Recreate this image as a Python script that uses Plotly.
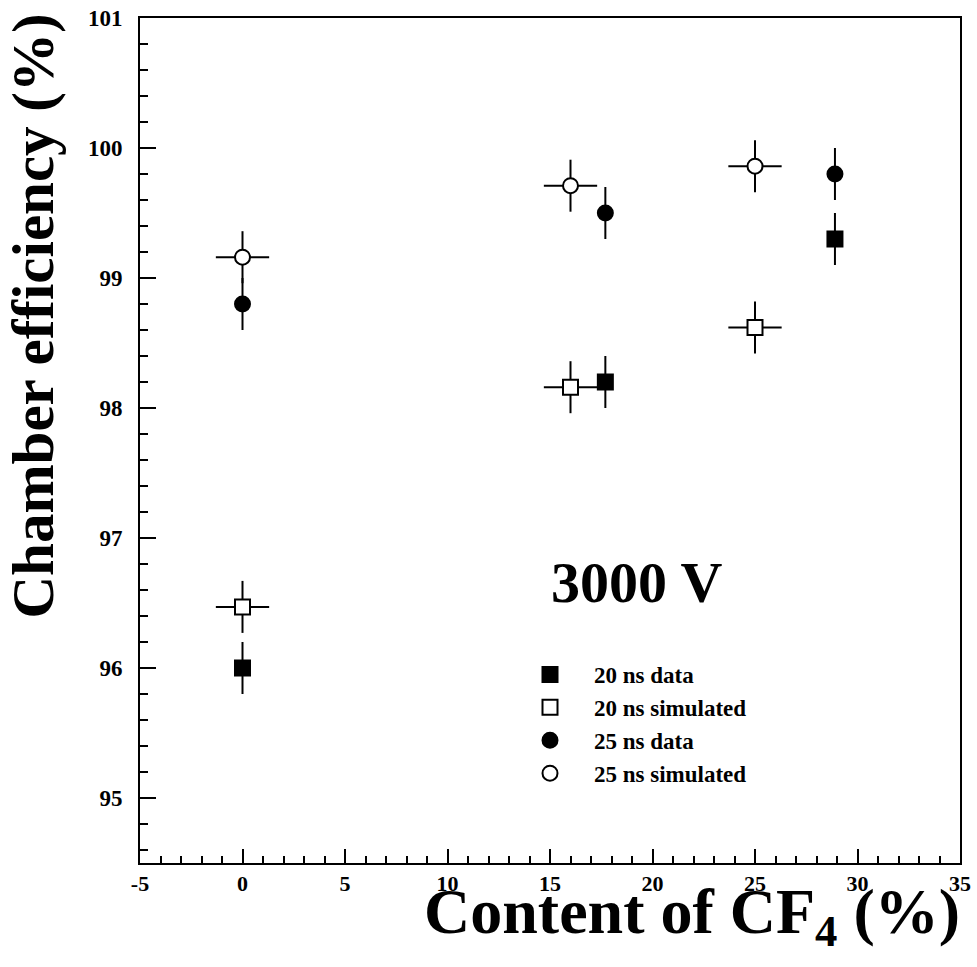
import plotly.graph_objects as go

# Data
x_data = [0.0, 17.7, 28.9]
x_sim = [0.0, 16.0, 25.0]
eff_20_data = [96.0, 98.2, 99.3]
eff_20_sim = [96.47, 98.16, 98.62]
eff_25_data = [98.8, 99.5, 99.8]
eff_25_sim = [99.16, 99.71, 99.86]
err_y = [0.2, 0.2, 0.2]
err_x_sim = [1.3, 1.3, 1.3]

names = ["20 ns data", "20 ns simulated", "25 ns data", "25 ns simulated"]

x_tickvals = [-5, 0, 5, 10, 15, 20, 25, 30, 35]
x_ticktext = ["-5", "0", "5", "10", "15", "20", "25", "30", "35"]
y_tickvals = [95, 96, 97, 98, 99, 100, 101]
y_ticktext = ["95", "96", "97", "98", "99", "100", "101"]

FONT = "Liberation Serif"

fig = go.Figure()

def add(xs, ys, name, symbol, fill, ex=None):
    fig.add_trace(go.Scatter(
        x=xs, y=ys, mode="markers", name=name,
        marker=dict(symbol=symbol, size=15, color=fill,
                    line=dict(color="black", width=2)),
        error_y=dict(type="data", array=err_y, color="black", thickness=2, width=0),
        error_x=(dict(type="data", array=ex, color="black", thickness=2, width=0)
                 if ex is not None else dict(visible=False)),
    ))

add(x_data, eff_20_data, names[0], "square", "black")
add(x_sim, eff_20_sim, names[1], "square", "white", err_x_sim)
add(x_data, eff_25_data, names[2], "circle", "black")
add(x_sim, eff_25_sim, names[3], "circle", "white", err_x_sim)

axis_common = dict(
    showline=True, linecolor="black", linewidth=2, mirror=True,
    showgrid=False, zeroline=False, ticks="inside", tickcolor="black",
    tickwidth=1.5, tickmode="array", automargin=False,
)

fig.update_xaxes(range=[-5, 35], tickvals=x_tickvals, ticktext=x_ticktext, ticklen=14,
                 minor=dict(dtick=1, tick0=0, ticks="inside", ticklen=7, tickcolor="black", tickwidth=1.5),
                 ticklabelstandoff=0,
                 tickfont=dict(family=FONT, size=22, color="black", weight="bold"),
                 **axis_common)
fig.update_yaxes(range=[94.5, 101], tickvals=y_tickvals, ticktext=y_ticktext, ticklen=16,
                 minor=dict(dtick=0.2, tick0=95, ticks="inside", ticklen=8, tickcolor="black", tickwidth=1.5),
                 ticklabelstandoff=11,
                 tickfont=dict(family=FONT, size=23, color="black", weight="bold"),
                 **axis_common)

fig.add_annotation(text="Content of CF<sub>4</sub> (%)", xref="paper", yref="paper",
                   x=(962 - 140) / 820, y=(863 - 874) / 845, xanchor="right", yanchor="top",
                   showarrow=False,
                   font=dict(family=FONT, size=64, color="black", weight="bold"))
fig.add_annotation(text="Chamber efficiency (%)", xref="paper", yref="paper",
                   x=(-3 - 140) / 820, y=(863 - 12) / 845, xanchor="left", yanchor="top",
                   textangle=-90, showarrow=False,
                   font=dict(family=FONT, size=59, color="black", weight="bold"))
fig.add_annotation(text="3000 V", x=19.24, y=96.66, showarrow=False,
                   font=dict(family=FONT, size=58, color="black", weight="bold"))

fig.update_layout(
    width=977, height=967,
    margin=dict(l=140, r=17, t=18, b=104),
    paper_bgcolor="white", plot_bgcolor="white",
    showlegend=True,
    legend=dict(x=(506 - 140) / 820, y=(863 - 653) / 845, xanchor="left", yanchor="top",
                bgcolor="rgba(0,0,0,0)", borderwidth=0, itemwidth=78,
                tracegroupgap=0,
                font=dict(family=FONT, size=23, color="black", weight="bold")),
)

fig.write_html("out.html")
